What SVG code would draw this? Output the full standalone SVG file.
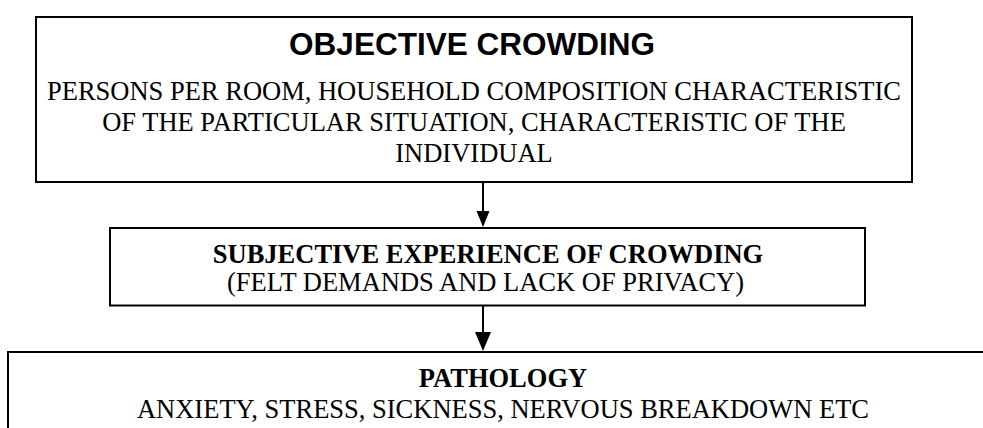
<svg xmlns="http://www.w3.org/2000/svg" width="983" height="428" viewBox="0 0 983 428">
<style>
.box{fill:#fff;stroke:#000;stroke-width:2}
.t{font-family:"Liberation Serif","Times New Roman",serif;font-size:26.5px;fill:#000;text-anchor:middle}
.b{font-weight:bold}
.h{font-family:"Liberation Sans",Arial,sans-serif;font-size:31.5px;font-weight:bold;fill:#000;text-anchor:middle}
.ln{stroke:#000;stroke-width:2;fill:none}
.hd{fill:#000}
</style>
<rect width="983" height="428" fill="#fff"/>
<g id="objective">
<rect class="box" x="36" y="17" width="876" height="165"/>
<text class="h" x="472" y="55">OBJECTIVE CROWDING</text>
<text class="t" x="474" y="100">PERSONS PER ROOM, HOUSEHOLD COMPOSITION CHARACTERISTIC</text>
<text class="t" x="474" y="131">OF THE PARTICULAR SITUATION, CHARACTERISTIC OF THE</text>
<text class="t" x="474" y="162">INDIVIDUAL</text>
</g>
<g id="subjective">
<rect class="box" x="110" y="228" width="755" height="77.5"/>
<text class="t b" x="488" y="263">SUBJECTIVE EXPERIENCE OF CROWDING</text>
<text class="t" x="485.5" y="291">(FELT DEMANDS AND LACK OF PRIVACY)</text>
</g>
<g id="pathology">
<rect class="box" x="8" y="352" width="1000" height="100"/>
<text class="t b" x="503" y="387">PATHOLOGY</text>
<text class="t" x="503" y="418">ANXIETY, STRESS, SICKNESS, NERVOUS BREAKDOWN ETC</text>
</g>
<g id="connectors">
<line class="ln" x1="483" y1="183" x2="483" y2="213"/>
<polygon class="hd" points="476.5,211 489.5,211 483,227"/>
<line class="ln" x1="483" y1="306" x2="483" y2="334"/>
<polygon class="hd" points="475,332 491,332 483,351"/>
</g>
</svg>
